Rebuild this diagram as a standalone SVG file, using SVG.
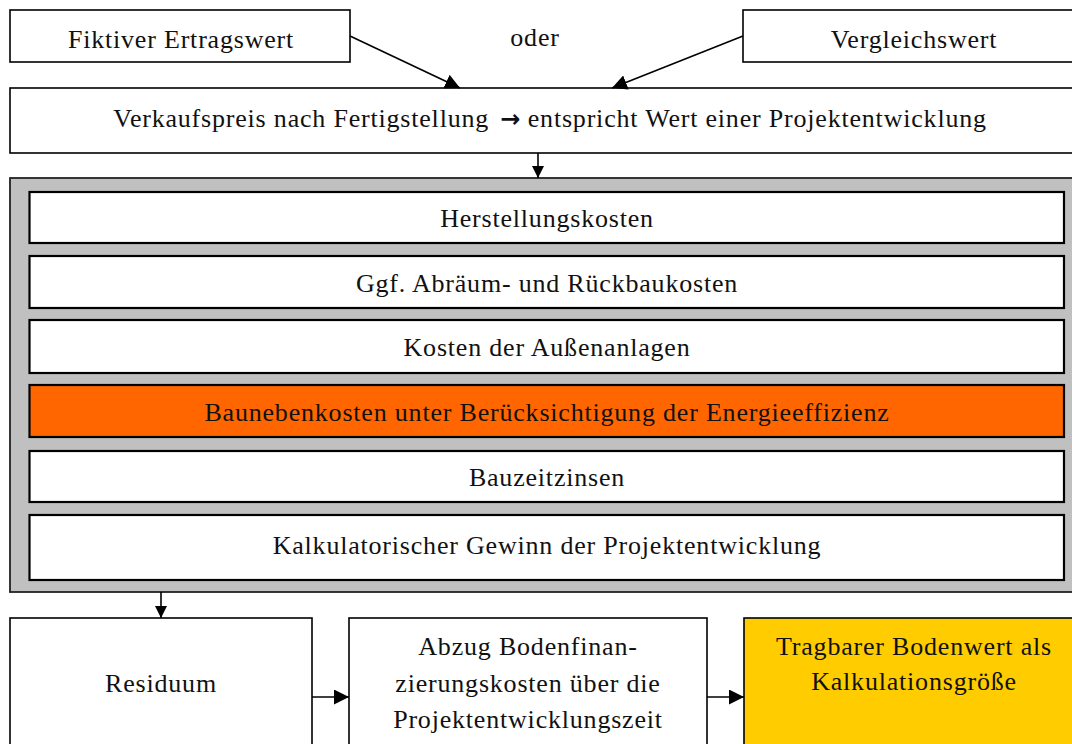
<svg xmlns="http://www.w3.org/2000/svg" width="1072" height="744" viewBox="0 0 1072 744">
  <defs>
    <marker id="arrow" viewBox="0 0 10 10" refX="10" refY="5" markerWidth="12" markerHeight="12" markerUnits="userSpaceOnUse" orient="auto">
      <path d="M0,0 L10,5 L0,10 z" fill="#000"/>
    </marker>
    <marker id="arrowBig" viewBox="0 0 10 10" refX="10" refY="5" markerWidth="15" markerHeight="15" markerUnits="userSpaceOnUse" orient="auto">
      <path d="M0,0 L10,5 L0,10 z" fill="#000"/>
    </marker>
  </defs>
  <style>
    text { font-family: "Liberation Serif", "Times New Roman", serif; font-size: 26px; letter-spacing: 0.8px; fill: #111; text-anchor: middle; }
    .box { fill: #fff; stroke: #000; stroke-width: 1.6; }
    .inner { fill: #fff; stroke: #000; stroke-width: 2.2; }
    .frame { fill: #c0c0c0; stroke: #222; stroke-width: 1.8; }
    .orange { fill: #ff6600; }
    .yellow { fill: #ffcc00; }
    .link { stroke: #000; stroke-width: 1.6; fill: none; }
    .sym { font-family: "DejaVu Sans", sans-serif; font-weight: bold; font-size: 24px; letter-spacing: 0; }
  </style>

  <rect width="1072" height="744" fill="#fff"/>

  <!-- input values -->
  <g id="fiktiver-ertragswert">
    <rect class="box" x="10" y="10" width="340" height="52"/>
    <text x="181" y="48">Fiktiver Ertragswert</text>
  </g>
  <g id="oder">
    <text x="535" y="46">oder</text>
  </g>
  <g id="vergleichswert">
    <rect class="box" x="743" y="10" width="340" height="52"/>
    <text x="914" y="48">Vergleichswert</text>
  </g>

  <!-- sales price -->
  <g id="verkaufspreis">
    <rect class="box" x="10" y="88" width="1075" height="65"/>
    <text x="550" y="127">Verkaufspreis nach Fertigstellung <tspan class="sym" dx="4">→</tspan> entspricht Wert einer Projektentwicklung</text>
  </g>

  <!-- cost block -->
  <g id="kostenblock">
    <rect class="frame" x="10" y="178" width="1075" height="414"/>
  </g>
  <g id="herstellungskosten">
    <rect class="inner" x="29.5" y="192" width="1034.5" height="51"/>
    <text x="547" y="227">Herstellungskosten</text>
  </g>
  <g id="rueckbaukosten">
    <rect class="inner" x="29.5" y="256" width="1034.5" height="52"/>
    <text x="547" y="292">Ggf. Abräum- und Rückbaukosten</text>
  </g>
  <g id="aussenanlagen">
    <rect class="inner" x="29.5" y="320" width="1034.5" height="53"/>
    <text x="547" y="356">Kosten der Außenanlagen</text>
  </g>
  <g id="baunebenkosten">
    <rect class="inner orange" x="29.5" y="385" width="1034.5" height="52"/>
    <text x="547" y="421">Baunebenkosten unter Berücksichtigung der Energieeffizienz</text>
  </g>
  <g id="bauzeitzinsen">
    <rect class="inner" x="29.5" y="451" width="1034.5" height="51"/>
    <text x="547" y="486">Bauzeitzinsen</text>
  </g>
  <g id="gewinn">
    <rect class="inner" x="29.5" y="515" width="1034.5" height="65"/>
    <text x="547" y="554">Kalkulatorischer Gewinn der Projektentwicklung</text>
  </g>

  <!-- result chain -->
  <g id="residuum">
    <rect class="box" x="10" y="618" width="302" height="140"/>
    <text x="161" y="692">Residuum</text>
  </g>
  <g id="bodenfinanzierung">
    <rect class="box" x="349" y="618" width="358" height="140"/>
    <text x="528" y="655">Abzug Bodenfinan-</text>
    <text x="528" y="692">zierungskosten über die</text>
    <text x="528" y="728">Projektentwicklungszeit</text>
  </g>
  <g id="tragbarer-bodenwert">
    <rect class="box yellow" x="744" y="618" width="340" height="140"/>
    <text x="914" y="655">Tragbarer Bodenwert als</text>
    <text x="914" y="690">Kalkulationsgröße</text>
  </g>

  <!-- connectors -->
  <g id="connectors">
    <line class="link" x1="350" y1="36" x2="460" y2="88" marker-end="url(#arrowBig)"/>
    <line class="link" x1="743" y1="36" x2="612" y2="88" marker-end="url(#arrowBig)"/>
    <line class="link" x1="538" y1="153" x2="538" y2="178" marker-end="url(#arrow)"/>
    <line class="link" x1="161" y1="592" x2="161" y2="618" marker-end="url(#arrow)"/>
    <line class="link" x1="312" y1="697" x2="349" y2="697" marker-end="url(#arrowBig)"/>
    <line class="link" x1="707" y1="697" x2="744" y2="697" marker-end="url(#arrowBig)"/>
  </g>
</svg>
